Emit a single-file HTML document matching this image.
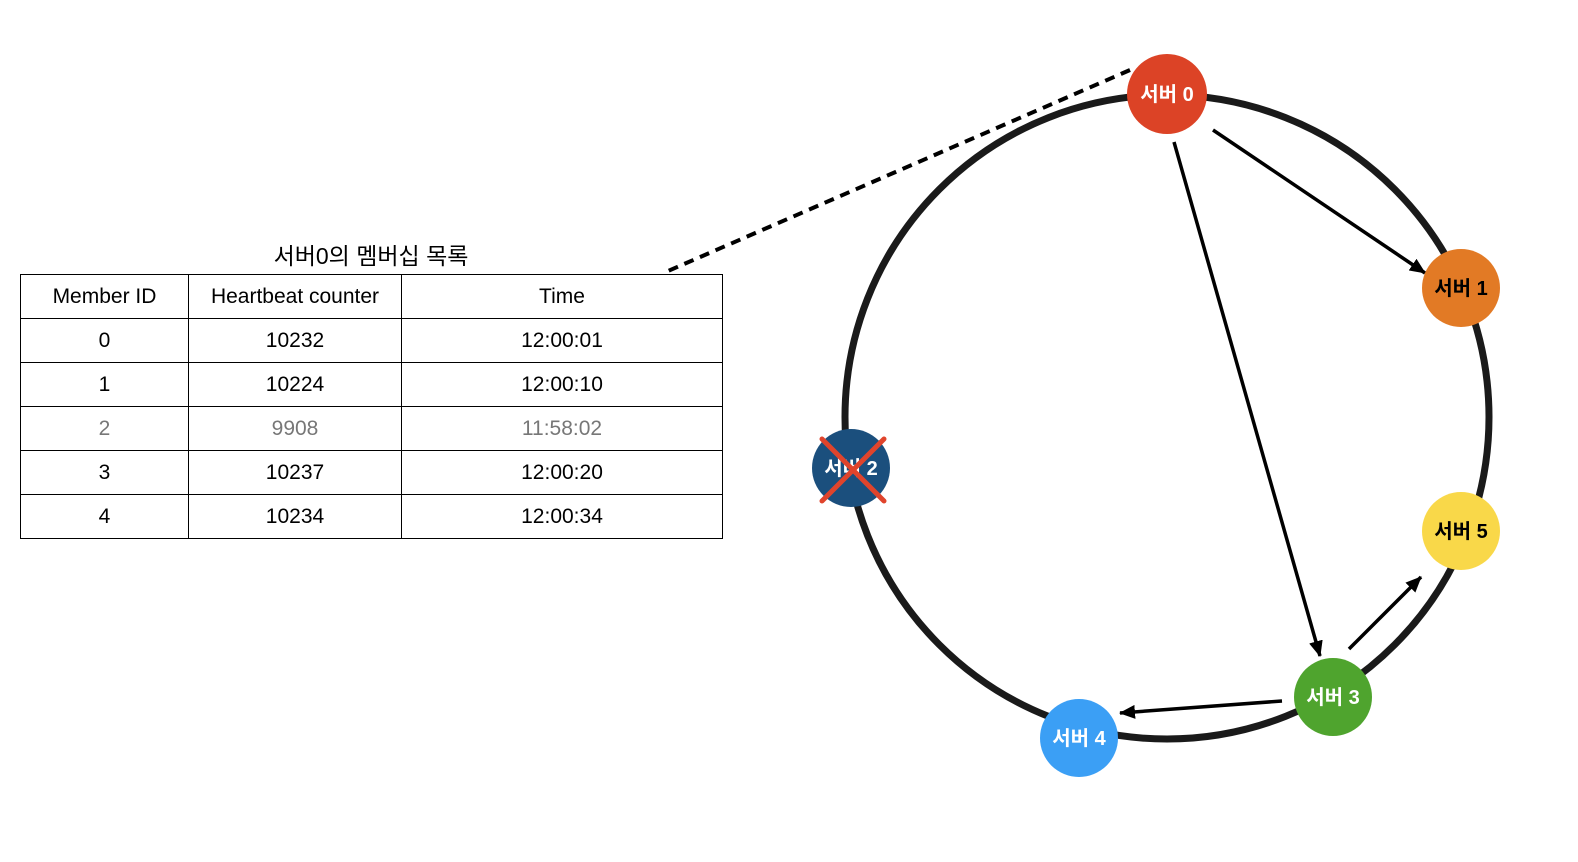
<!DOCTYPE html>
<html><head><meta charset="utf-8"><style>
body{margin:0;background:#fff;width:1578px;height:862px;overflow:hidden;position:relative;font-family:"Liberation Sans","Noto Sans CJK KR",sans-serif}
.title{position:absolute;left:20px;width:702px;top:237px;text-align:center;font-size:23px;color:#000}
table{position:absolute;left:20px;top:274px;border-collapse:collapse;font-size:21px}
td{border:1px solid #000;height:43px;text-align:center;padding:0}
tr.g td{color:#777}
</style></head><body>
<div class="title">서버0의 멤버십 목록</div>
<table>
<tr><td style="width:167px">Member ID</td><td style="width:212px">Heartbeat counter</td><td style="width:320px">Time</td></tr>
<tr><td>0</td><td>10232</td><td>12:00:01</td></tr>
<tr><td>1</td><td>10224</td><td>12:00:10</td></tr>
<tr class="g"><td>2</td><td>9908</td><td>11:58:02</td></tr>
<tr><td>3</td><td>10237</td><td>12:00:20</td></tr>
<tr><td>4</td><td>10234</td><td>12:00:34</td></tr>
</table>
<svg width="1578" height="862" style="position:absolute;left:0;top:0" font-family="Liberation Sans, Noto Sans CJK KR, sans-serif" font-weight="bold" font-size="20">
<defs><marker id="b" markerWidth="16" markerHeight="14" refX="15" refY="7" orient="auto" markerUnits="userSpaceOnUse"><path d="M0,0 L16,7 L0,14 z" fill="#000"/></marker></defs>
<line x1="1130" y1="70" x2="668" y2="271" stroke="#000" stroke-width="4" stroke-dasharray="10,7"/>
<circle cx="1167" cy="417" r="322" fill="none" stroke="#1a1a1a" stroke-width="7"/>
<g stroke="#000" stroke-width="3.5">
<line x1="1213" y1="130" x2="1425" y2="273" marker-end="url(#b)"/>
<line x1="1174" y1="142" x2="1320" y2="656" marker-end="url(#b)"/>
<line x1="1349" y1="649" x2="1421" y2="577" marker-end="url(#b)"/>
<line x1="1282" y1="701" x2="1120" y2="713" marker-end="url(#b)"/>
</g>
<g text-anchor="middle">
<circle cx="1167" cy="94" r="40" fill="#dc4326"/><text x="1167" y="101" fill="#fff">서버 0</text>
<circle cx="1461" cy="288" r="39" fill="#e27a25"/><text x="1461" y="295" fill="#000">서버 1</text>
<circle cx="1461" cy="531" r="39" fill="#f9d849"/><text x="1461" y="538" fill="#000">서버 5</text>
<circle cx="1333" cy="697" r="39" fill="#4fa42e"/><text x="1333" y="704" fill="#fff">서버 3</text>
<circle cx="1079" cy="738" r="39" fill="#3b9ff5"/><text x="1079" y="745" fill="#fff">서버 4</text>
<circle cx="851" cy="468" r="39" fill="#1b4f7d"/><text x="851" y="475" fill="#fff">서버 2</text>
</g>
<g stroke="#e0442c" stroke-width="5" stroke-linecap="round">
<line x1="822" y1="439" x2="884" y2="501"/><line x1="884" y1="439" x2="822" y2="501"/>
</g>
</svg>
</body></html>
